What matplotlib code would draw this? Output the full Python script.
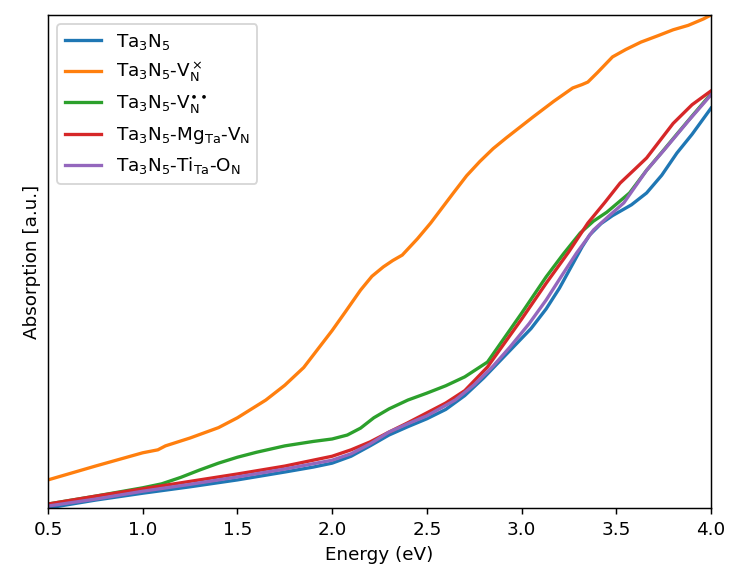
import numpy as np
import matplotlib
matplotlib.use('Agg')
import matplotlib.pyplot as plt

plt.rcParams['mathtext.default'] = 'regular'

# values (absorption in arbitrary units, 0-100)
e_pristine = [0.5, 0.75, 1.0, 1.25, 1.5, 1.75, 1.9, 2.0, 2.1, 2.2, 2.3, 2.4, 2.5, 2.6, 2.7, 2.8,
              2.88, 2.95, 3.05, 3.13, 3.2, 3.27, 3.32, 3.36, 3.42, 3.48, 3.58, 3.66, 3.74, 3.82, 3.9, 4.0]
a_pristine = [0.0, 1.6, 3.0, 4.3, 5.7, 7.3, 8.3, 9.1, 10.5, 12.6, 14.8, 16.5, 18.1, 20.0, 22.8, 26.4,
              29.6, 32.4, 36.4, 40.4, 44.6, 49.5, 53.0, 55.4, 57.7, 59.3, 61.5, 63.9, 67.5, 72.0, 75.8, 81.1]

e_vn0 = [0.5, 0.75, 1.0, 1.08, 1.12, 1.25, 1.4, 1.5, 1.65, 1.75, 1.85, 1.92, 2.0, 2.07, 2.15, 2.21,
         2.27, 2.32, 2.37, 2.45, 2.52, 2.64, 2.71, 2.78, 2.85, 2.92, 3.06, 3.17, 3.27, 3.32, 3.35, 3.4,
         3.48, 3.55, 3.63, 3.72, 3.8, 3.88, 3.96, 4.0]
a_vn0 = [5.7, 8.5, 11.2, 11.8, 12.6, 14.2, 16.3, 18.3, 21.9, 24.9, 28.5, 32.0, 36.0, 39.8, 44.2, 47.0,
         48.9, 50.2, 51.3, 54.6, 57.8, 63.9, 67.4, 70.3, 72.9, 75.1, 79.3, 82.5, 85.2, 85.9, 86.4, 88.3,
         91.5, 93.0, 94.5, 95.8, 97.0, 97.9, 99.2, 100.0]

e_vn2 = [0.5, 0.75, 1.0, 1.1, 1.2, 1.3, 1.4, 1.5, 1.6, 1.75, 1.9, 2.0, 2.08, 2.15, 2.22, 2.3, 2.4,
         2.5, 2.6, 2.7, 2.82, 2.9, 3.0, 3.13, 3.22, 3.31, 3.38, 3.45, 3.57, 3.66, 3.75, 3.83, 3.9, 4.0]
a_vn2 = [0.8, 2.4, 4.1, 4.9, 6.2, 7.7, 9.1, 10.3, 11.3, 12.6, 13.5, 14.0, 14.8, 16.2, 18.3, 20.1, 21.9,
         23.3, 24.8, 26.6, 29.6, 34.0, 39.5, 46.9, 51.5, 55.8, 58.2, 60.0, 63.9, 68.5, 72.6, 76.3, 79.5, 84.0]

e_mg = [0.5, 0.75, 1.0, 1.25, 1.5, 1.75, 2.0, 2.1, 2.2, 2.3, 2.4, 2.5, 2.6, 2.7, 2.82, 3.0, 3.13,
        3.25, 3.35, 3.44, 3.52, 3.6, 3.66, 3.73, 3.8, 3.9, 4.0]
a_mg = [0.8, 2.4, 3.9, 5.4, 6.9, 8.5, 10.5, 11.8, 13.4, 15.4, 17.3, 19.3, 21.3, 23.8, 28.6, 38.3, 45.6,
        52.0, 57.8, 62.0, 65.9, 68.8, 71.0, 74.5, 78.0, 81.8, 84.6]

e_ti = [0.5, 0.75, 1.0, 1.25, 1.5, 1.75, 2.0, 2.1, 2.2, 2.3, 2.4, 2.5, 2.65, 2.75, 2.85, 2.94, 3.04,
        3.13, 3.21, 3.29, 3.38, 3.46, 3.54, 3.66, 3.75, 3.88, 4.0]
a_ti = [0.4, 1.8, 3.4, 4.8, 6.3, 7.9, 9.7, 11.0, 13.0, 15.4, 17.1, 18.7, 21.9, 25.0, 28.8, 32.7, 37.4,
        42.2, 47.0, 51.7, 56.4, 59.2, 61.9, 68.5, 72.5, 78.5, 83.8]

labels = [r'Ta$_3$N$_5$',
          r'Ta$_3$N$_5$-V$_N^\times$',
          r'Ta$_3$N$_5$-V$_N^{\bullet\bullet}$',
          r'Ta$_3$N$_5$-Mg$_{Ta}$-V$_N$',
          r'Ta$_3$N$_5$-Ti$_{Ta}$-O$_N$']

series = [(e_pristine, a_pristine), (e_vn0, a_vn0), (e_vn2, a_vn2), (e_mg, a_mg), (e_ti, a_ti)]
colors = ['tab:blue', 'tab:orange', 'tab:green', 'tab:red', 'tab:purple']

dpi = 132
fig = plt.figure(figsize=(729 / dpi, 570 / dpi), dpi=dpi)
ax = fig.add_axes([48 / 729, 62 / 570, 663 / 729, 493 / 570])

for (e, a), lab, c in zip(series, labels, colors):
    ax.plot(e, a, color=c, linewidth=1.8, label=lab)

ax.set_xlim(0.5, 4.0)
ax.set_ylim(0, 100)
ax.set_yticks([])
ax.set_xticks(np.arange(0.5, 4.01, 0.5))
ax.set_xlabel('Energy (eV)')
ax.set_ylabel('Absorption [a.u.]')
ax.legend(loc='upper left')

fig.savefig('out.png', dpi=dpi)
